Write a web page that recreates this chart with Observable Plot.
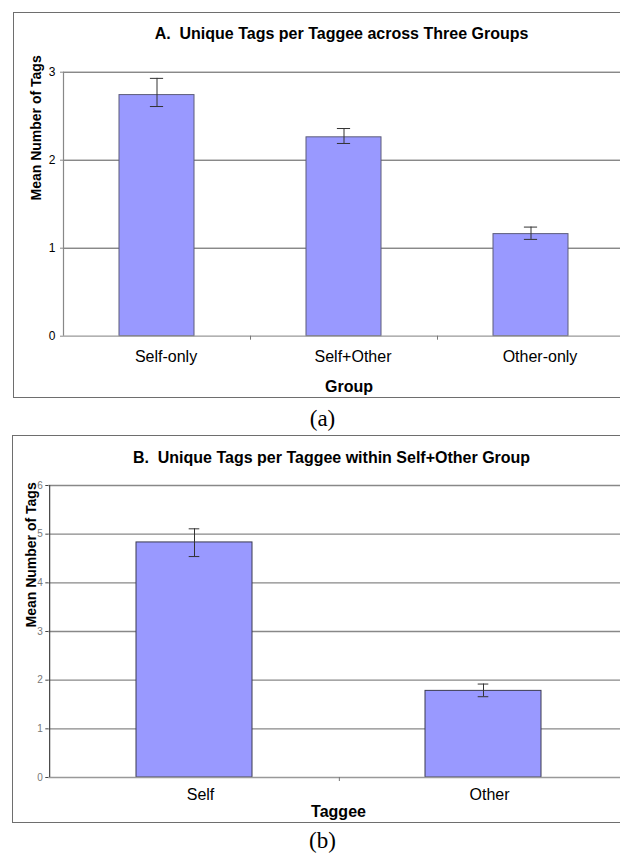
<!DOCTYPE html>
<html><head><meta charset="utf-8">
<script src="https://cdn.jsdelivr.net/npm/d3@7"></script>
<script src="https://cdn.jsdelivr.net/npm/@observablehq/plot@0.6"></script>
<style>
html,body{margin:0;padding:0;background:#fff;overflow:hidden;width:620px;height:854px;}
#page{position:relative;width:620px;height:854px;overflow:hidden;font-family:"Liberation Sans",Arial,sans-serif;background:#fff;}
.chart{position:absolute;left:0;width:640px;}
.chart svg{max-width:none !important;width:640px;}
.frame{position:absolute;box-sizing:border-box;border:1.5px solid #6e6e6e;border-right:none;pointer-events:none;}
</style></head><body>
<div id="page">
<div id="a" class="chart" style="top:0"></div>
<div id="b" class="chart" style="top:430px"></div>
<div class="frame" style="left:13px;top:12px;width:700px;height:386px"></div>
<div class="frame" style="left:12px;top:435px;width:700px;height:388px"></div>
</div>
<script>
// Chart A data
const groups = ["Self-only", "Self+Other", "Other-only"];
const groupMeans = [2.74, 2.26, 1.16];
const groupLo = [2.61, 2.19, 1.10];
const groupHi = [2.93, 2.36, 1.24];
const groupTicks = [0, 1, 2, 3];
const titleA = "A.  Unique Tags per Taggee across Three Groups";
const xLabelA = "Group";
const captionA = "(a)";

// Chart B data
const taggees = ["Self", "Other"];
const taggeeMeans = [4.83, 1.78];
const taggeeLo = [4.54, 1.66];
const taggeeHi = [5.11, 1.92];
const taggeeTicks = [0, 1, 2, 3, 4, 5, 6];
const titleB = "B.  Unique Tags per Taggee within Self+Other Group";
const xLabelB = "Taggee";
const captionB = "(b)";

const yLabel = "Mean Number of Tags";
const SANS = "Liberation Sans, Arial, sans-serif";
const SERIF = "Liberation Serif, Times New Roman, serif";

function makeChart(cfg) {
  const data = cfg.cats.map((c, i) => ({cat: c, mean: cfg.means[i], lo: cfg.lo[i], hi: cfg.hi[i]}));
  const step = (cfg.width - cfg.ml - cfg.mr) / cfg.cats.length;
  const bw = step * 0.4;
  const capInset = (bw - cfg.cap) / 2;
  const yMax = cfg.ticks[cfg.ticks.length - 1];
  return Plot.plot({
    width: cfg.width, height: cfg.height,
    marginLeft: cfg.ml, marginRight: cfg.mr, marginTop: cfg.mt, marginBottom: cfg.mb,
    style: {background: "transparent", fontFamily: SANS, color: "#000", overflow: "visible", maxWidth: "none"},
    x: {domain: cfg.cats, paddingInner: 0.6, paddingOuter: 0.3, axis: null},
    y: {domain: [0, yMax], axis: null},
    marks: [
      Plot.ruleY(cfg.ticks.filter(t => t > 0), {stroke: cfg.grid, strokeWidth: cfg.gridW}),
      Plot.barY(data, {x: "cat", y: "mean", fill: "#9999ff", stroke: cfg.barStroke, strokeWidth: 1}),
      Plot.ruleX(data, {x: "cat", y1: "lo", y2: "hi", stroke: "#333", strokeWidth: 1}),
      Plot.tickY(data, {x: "cat", y: "lo", stroke: "#333", strokeWidth: 1, insetLeft: capInset, insetRight: capInset}),
      Plot.tickY(data, {x: "cat", y: "hi", stroke: "#333", strokeWidth: 1, insetLeft: capInset, insetRight: capInset}),
      Plot.ruleY([0], {stroke: "#999", strokeWidth: 1.3}),
      Plot.ruleX(cfg.cats.slice(0, -1), {x: d => d, y1: 0, y2: 0, dx: step / 2, insetBottom: -4, stroke: "#777"}),
      Plot.ruleX(cfg.cats.slice(0, 1), {x: d => d, y1: 0, y2: yMax, dx: -step / 2, stroke: cfg.axisColor, strokeWidth: 1.2}),
      Plot.axisY({ticks: cfg.ticks, tickFormat: d3.format("d"), tickSize: 3, tickPadding: cfg.tickPad,
        fontSize: cfg.tickFont, fill: cfg.tickColor, stroke: cfg.axisColor, label: null}),
      Plot.text(cfg.cats, {x: d => d, text: d => d, frameAnchor: "bottom", lineAnchor: "middle", dy: cfg.catDy, dx: cfg.catDx, fontSize: 16, fill: "#000"}),
      Plot.text([cfg.xLabel], {text: d => d, frameAnchor: "bottom", lineAnchor: "middle", dy: cfg.xlDy, dx: cfg.xlDx, fontSize: 16, fontWeight: "bold", fill: "#000"}),
      Plot.text([yLabel], {text: d => d, frameAnchor: "left", lineAnchor: "middle", rotate: -90, dx: cfg.ylDx, dy: cfg.ylDy, fontSize: 14, fontWeight: "bold", fill: "#000"}),
      Plot.text([cfg.title], {text: d => d, frameAnchor: "top", lineAnchor: "middle", dx: cfg.tDx, dy: cfg.tDy, fontSize: 16, fontWeight: "bold", fill: "#000"}),
      Plot.text([cfg.caption], {text: d => d, frameAnchor: "bottom", lineAnchor: "middle", dx: cfg.cDx, dy: cfg.cDy, fontSize: 23, fontFamily: SERIF, fill: "#000"})
    ]
  });
}

document.getElementById("a").append(makeChart({
  cats: groups, means: groupMeans, lo: groupLo, hi: groupHi, ticks: groupTicks,
  title: titleA, xLabel: xLabelA, caption: captionA,
  width: 640, height: 430, ml: 63, mr: 16, mt: 71.7, mb: 94.3,
  cap: 13, grid: "#555", gridW: 1, barStroke: "#5c5c7a", axisColor: "#888",
  tickPad: 5, tickFont: 12, tickColor: "#000",
  catDy: 21, catDx: 9, xlDy: 51, xlDx: 5, ylDx: -27.4, ylDy: -3.7,
  tDx: -2.5, tDy: -38.7, cDx: -21.5, cDy: 82
}));

document.getElementById("b").append(makeChart({
  cats: taggees, means: taggeeMeans, lo: taggeeLo, hi: taggeeHi, ticks: taggeeTicks,
  title: titleB, xLabel: xLabelB, caption: captionB,
  width: 640, height: 424, ml: 48.3, mr: 12.3, mt: 55, mb: 77,
  cap: 10.5, grid: "#888", gridW: 1.3, barStroke: "#3a3a50", axisColor: "#444",
  tickPad: 3, tickFont: 10, tickColor: "#777",
  catDy: 17, catDx: 6, xlDy: 34, xlDx: 0, ylDx: -17.3, ylDy: -4,
  tDx: -7, tDy: -28, cDx: -16, cDy: 63
}));
</script>
</body></html>
